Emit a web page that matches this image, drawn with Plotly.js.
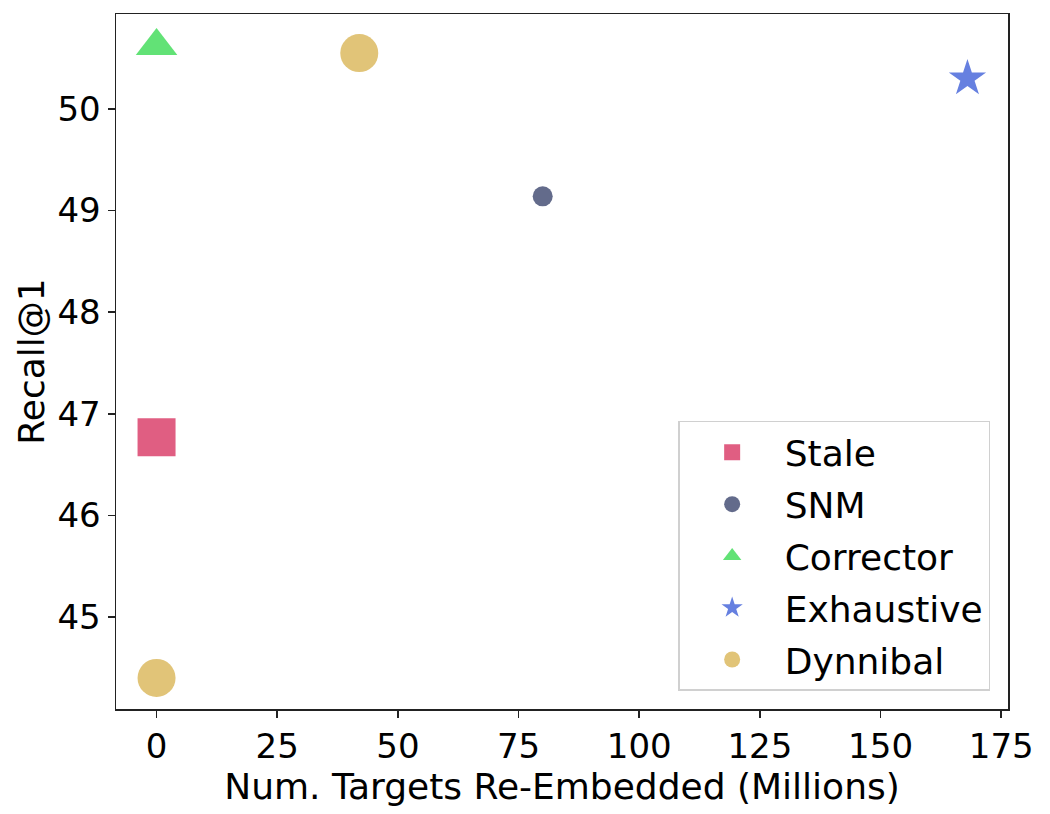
<!DOCTYPE html>
<html>
<head>
<meta charset="utf-8">
<script src="https://cdn.plot.ly/plotly-3.0.1.min.js"></script>
<style>
  html, body { margin: 0; padding: 0; background: #fff; }
  #chart { width: 1050px; height: 814px; }
</style>
</head>
<body>
<div id="chart"></div>
<script>
var methods = ['Stale', 'SNM', 'Corrector', 'Exhaustive', 'Dynnibal'];

// millions of targets re-embedded
var stale_x = [0];
var stale_y = [46.77];
var snm_x = [80];
var snm_y = [49.14];
var corrector_x = [0];
var corrector_y = [50.62];
var exhaustive_x = [168];
var exhaustive_y = [50.3];
var dynnibal_x = [0, 42];
var dynnibal_y = [44.4, 50.55];

var xTicks = [0, 25, 50, 75, 100, 125, 150, 175];
var yTicks = [45, 46, 47, 48, 49, 50];

var font = 'DejaVu Sans, sans-serif';

function pts(name, xs, ys, symbol, size, color) {
  return {
    x: xs,
    y: ys,
    type: 'scatter',
    mode: 'markers',
    name: name,
    legendgroup: name,
    marker: {
      symbol: symbol,
      size: size,
      color: color,
      line: { width: 0 }
    }
  };
}

var data = [
  pts(methods[0], stale_x, stale_y, 'square', 38, '#e05e82'),
  pts(methods[1], snm_x, snm_y, 'circle', 20, '#636b8b'),
  pts(methods[2], corrector_x, corrector_y, 'triangle-up', 36, '#62e276'),
  pts(methods[3], exhaustive_x, exhaustive_y, 'star', 28, '#6680e0'),
  pts(methods[4], dynnibal_x, dynnibal_y, 'circle', 38, '#e1c478')
];

var layout = {
  width: 1050,
  height: 814,
  margin: { l: 116, r: 42, t: 14, b: 105 },
  paper_bgcolor: '#fff',
  plot_bgcolor: '#fff',
  font: { family: font, size: 34, color: '#000' },
  showlegend: true,
  xaxis: {
    range: [-8.4, 176.4],
    tickvals: xTicks,
    ticktext: xTicks.map(String),
    ticks: 'outside',
    ticklen: 7,
    tickwidth: 1.5,
    tickcolor: '#222',
    showline: true,
    linecolor: '#222',
    linewidth: 1.5,
    mirror: true,
    showgrid: false,
    zeroline: false,
    tickfont: { family: font, size: 34 },
    title: { text: 'Num. Targets Re-Embedded (Millions)', font: { family: font, size: 36 }, standoff: 0 }
  },
  yaxis: {
    range: [44.094, 50.935],
    tickvals: yTicks,
    ticktext: yTicks.map(String),
    ticks: 'outside',
    ticklen: 7,
    tickwidth: 1.5,
    tickcolor: '#222',
    showline: true,
    linecolor: '#222',
    linewidth: 1.5,
    mirror: true,
    showgrid: false,
    zeroline: false,
    tickfont: { family: font, size: 34 },
    title: { text: 'Recall@1', font: { family: font, size: 36 }, standoff: 2 }
  },
  legend: {
    x: 0.98,
    y: 0.026,
    xanchor: 'right',
    yanchor: 'bottom',
    bgcolor: 'rgba(255,255,255,0.8)',
    bordercolor: '#d0d0d0',
    borderwidth: 1.5,
    tracegroupgap: 2,
    itemsizing: 'trace',
    itemwidth: 95,
    font: { family: font, size: 36 }
  }
};

Plotly.newPlot('chart', data, layout, { displayModeBar: false, staticPlot: true });
</script>
</body>
</html>
